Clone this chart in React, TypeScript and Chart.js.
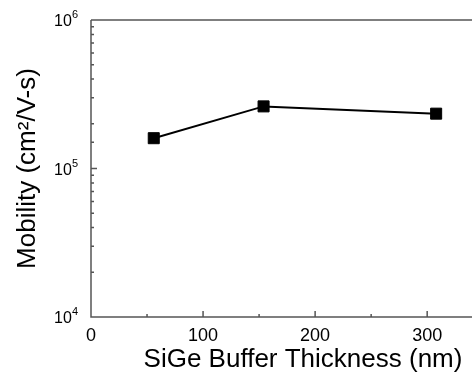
import React, { useEffect, useRef } from "react";
import { Chart, registerables } from "chart.js";

Chart.register(...registerables);

const thickness = [56, 154, 308];
const mobility = [1.6e5, 2.62e5, 2.34e5];
const xTitle = "SiGe Buffer Thickness (nm)";
const yTitle = "Mobility (cm²/V-s)";

const FONT = '"Liberation Sans", Arial, sans-serif';
const SPINE = "#555555";

const decorPlugin = {
  id: "decor",
  afterDraw(chart: any) {
    const { ctx, chartArea: a, scales } = chart;
    const xs = scales.x;
    const ys = scales.y;
    ctx.save();
    ctx.strokeStyle = SPINE;
    ctx.lineWidth = 1.5;
    ctx.beginPath();
    ctx.moveTo(a.left, a.top);
    ctx.lineTo(a.right + 2, a.top);
    ctx.moveTo(a.left, a.top);
    ctx.lineTo(a.left, a.bottom);
    ctx.lineTo(a.right + 2, a.bottom);
    xs.ticks.forEach((t: any) => {
      const px = xs.getPixelForValue(t.value);
      const len = t.value % 100 === 0 ? 6 : 3;
      ctx.moveTo(px, a.bottom);
      ctx.lineTo(px, a.bottom - len);
    });
    ys.ticks.forEach((t: any) => {
      const py = ys.getPixelForValue(t.value);
      const e = Math.log10(t.value);
      const major = Math.abs(e - Math.round(e)) < 1e-6;
      const len = major ? 6 : 3;
      ctx.moveTo(a.left, py);
      ctx.lineTo(a.left + len, py);
    });
    ctx.stroke();

    // y labels with superscript exponents
    ctx.fillStyle = "#000";
    ys.ticks.forEach((t: any) => {
      const e = Math.log10(t.value);
      if (Math.abs(e - Math.round(e)) > 1e-6) return;
      const py = ys.getPixelForValue(t.value);
      const exp = String(Math.round(e));
      ctx.font = "11px " + FONT;
      const ew = ctx.measureText(exp).width;
      const right = a.left - 13;
      ctx.textAlign = "left";
      ctx.textBaseline = "middle";
      ctx.fillText(exp, right - ew, py - 5);
      ctx.font = "16px " + FONT;
      ctx.textAlign = "right";
      ctx.fillText("10", right - ew, py + 2);
    });

    // x title
    ctx.font = "26px " + FONT;
    ctx.textAlign = "center";
    ctx.textBaseline = "middle";
    ctx.fillText(xTitle, 303, 360);
    ctx.restore();
  },
};

export default function App() {
  const ref = useRef<HTMLCanvasElement>(null);
  useEffect(() => {
    const chart = new Chart(ref.current!, {
      type: "line",
      data: {
        datasets: [
          {
            data: thickness.map((x, i) => ({ x, y: mobility[i] })),
            borderColor: "#000",
            borderWidth: 2,
            backgroundColor: "#000",
            pointStyle: "rect",
            pointRadius: 7.8,
            pointBorderWidth: 1,
            pointBorderColor: "#000",
            pointBackgroundColor: "#000",
          },
        ],
      },
      options: {
        animation: false,
        responsive: true,
        maintainAspectRatio: false,
        layout: { autoPadding: false, padding: { top: 20, left: 0, right: 0, bottom: 0 } },
        plugins: { legend: { display: false }, tooltip: { enabled: false } },
        scales: {
          x: {
            type: "linear",
            min: 0,
            max: 340,
            grid: { display: false, drawTicks: false },
            border: { display: false },
            ticks: {
              stepSize: 50,
              includeBounds: false,
              autoSkip: false,
              maxRotation: 0,
              padding: 8,
              color: "#000",
              font: { family: FONT, size: 18 },
              callback: (v: any) => (Number(v) % 100 === 0 ? String(v) : ""),
            },
            afterFit: (s: any) => {
              s.height = 60;
              s.paddingLeft = 0;
              s.paddingRight = 0;
            },
          },
          y: {
            type: "logarithmic",
            min: 1e4,
            max: 1e6,
            grid: { display: false, drawTicks: false },
            border: { display: false },
            ticks: { callback: () => "", autoSkip: false },
            title: {
              display: true,
              text: yTitle,
              color: "#000",
              font: { family: FONT, size: 26 },
              padding: { top: 12, bottom: 0 },
            },
            afterFit: (s: any) => {
              s.width = 91;
              s.paddingTop = 0;
              s.paddingBottom = 0;
            },
          },
        },
      },
      plugins: [decorPlugin],
    });
    return () => chart.destroy();
  }, []);
  return (
    <div style={{ position: "absolute", left: 0, top: 0, width: 472, height: 377 }}>
      <canvas ref={ref} />
    </div>
  );
}
